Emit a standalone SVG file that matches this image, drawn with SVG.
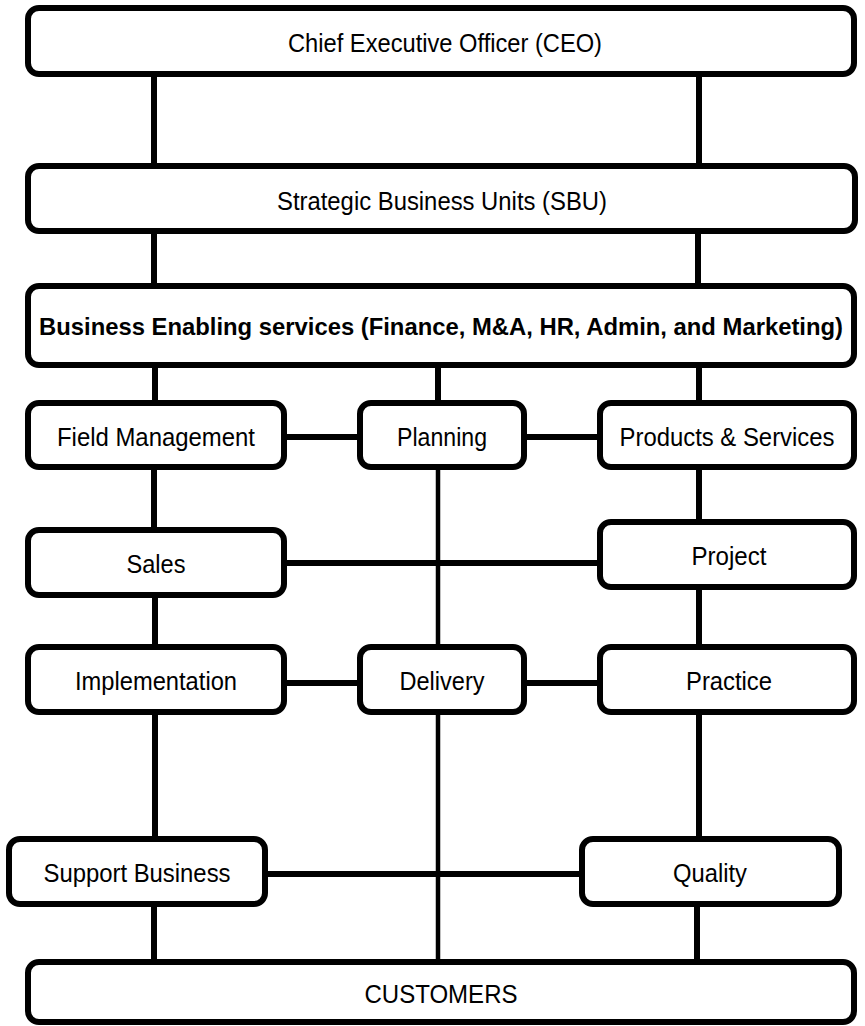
<svg xmlns="http://www.w3.org/2000/svg" width="865" height="1026" viewBox="0 0 865 1026">
  <style>
    .box { fill: #ffffff; stroke: #000000; stroke-width: 6; }
    .lbl { font-family: "Liberation Sans", Arial, sans-serif; font-size: 26px; fill: #000000; text-anchor: middle; }
    .bold { font-weight: bold; font-size: 24px; }
    .c { stroke: #000000; stroke-width: 6; fill: none; }
    .thin { stroke: #000000; stroke-width: 4.5; fill: none; }
  </style>
  <rect width="865" height="1026" fill="#ffffff"/>
  <g id="connectors">
    <line class="c" x1="154" y1="74" x2="154" y2="166"/>
    <line class="c" x1="699" y1="74" x2="699" y2="166"/>
    <line class="c" x1="154" y1="231" x2="154" y2="286"/>
    <line class="c" x1="698" y1="231" x2="698" y2="286"/>
    <line class="c" x1="155" y1="365" x2="155" y2="403"/>
    <line class="c" x1="438" y1="365" x2="438" y2="403"/>
    <line class="c" x1="699" y1="365" x2="699" y2="403"/>
    <line class="c" x1="284" y1="437" x2="360" y2="437"/>
    <line class="c" x1="524" y1="437" x2="600" y2="437"/>
    <line class="c" x1="154" y1="467" x2="154" y2="530"/>
    <line class="thin" x1="438" y1="467" x2="438" y2="647"/>
    <line class="c" x1="699" y1="467" x2="699" y2="522"/>
    <line class="c" x1="284" y1="563" x2="600" y2="563"/>
    <line class="c" x1="155" y1="595" x2="155" y2="647"/>
    <line class="c" x1="699" y1="587" x2="699" y2="647"/>
    <line class="c" x1="284" y1="683" x2="360" y2="683"/>
    <line class="c" x1="524" y1="683" x2="600" y2="683"/>
    <line class="c" x1="155" y1="712" x2="155" y2="839"/>
    <line class="c" x1="699" y1="712" x2="699" y2="839"/>
    <line class="thin" x1="438" y1="712" x2="438" y2="962"/>
    <line class="c" x1="265" y1="874" x2="582" y2="874"/>
    <line class="c" x1="154" y1="904" x2="154" y2="962"/>
    <line class="c" x1="697" y1="904" x2="697" y2="962"/>
  </g>
  <g id="ceo">
    <rect class="box" x="28" y="8" width="826" height="66" rx="11"/>
    <text class="lbl" x="445" y="52" textLength="314" lengthAdjust="spacingAndGlyphs">Chief Executive Officer (CEO)</text>
  </g>
  <g id="sbu">
    <rect class="box" x="28" y="166" width="827" height="65" rx="11"/>
    <text class="lbl" x="442" y="210" textLength="330" lengthAdjust="spacingAndGlyphs">Strategic Business Units (SBU)</text>
  </g>
  <g id="bes">
    <rect class="box" x="28" y="286" width="826" height="79" rx="11"/>
    <text class="lbl bold" x="441" y="335" textLength="804" lengthAdjust="spacingAndGlyphs">Business Enabling services (Finance, M&amp;A, HR, Admin, and Marketing)</text>
  </g>
  <g id="field-management">
    <rect class="box" x="28" y="403" width="256" height="64" rx="11"/>
    <text class="lbl" x="156" y="446" textLength="198" lengthAdjust="spacingAndGlyphs">Field Management</text>
  </g>
  <g id="planning">
    <rect class="box" x="360" y="403" width="164" height="64" rx="11"/>
    <text class="lbl" x="442" y="446" textLength="90" lengthAdjust="spacingAndGlyphs">Planning</text>
  </g>
  <g id="products-services">
    <rect class="box" x="600" y="403" width="254" height="64" rx="11"/>
    <text class="lbl" x="727" y="446" textLength="215" lengthAdjust="spacingAndGlyphs">Products &amp; Services</text>
  </g>
  <g id="sales">
    <rect class="box" x="28" y="530" width="256" height="65" rx="11"/>
    <text class="lbl" x="156" y="573" textLength="59" lengthAdjust="spacingAndGlyphs">Sales</text>
  </g>
  <g id="project">
    <rect class="box" x="600" y="522" width="254" height="65" rx="11"/>
    <text class="lbl" x="729" y="565" textLength="75" lengthAdjust="spacingAndGlyphs">Project</text>
  </g>
  <g id="implementation">
    <rect class="box" x="28" y="647" width="256" height="65" rx="11"/>
    <text class="lbl" x="156" y="690" textLength="162" lengthAdjust="spacingAndGlyphs">Implementation</text>
  </g>
  <g id="delivery">
    <rect class="box" x="360" y="647" width="164" height="65" rx="11"/>
    <text class="lbl" x="442" y="690" textLength="85" lengthAdjust="spacingAndGlyphs">Delivery</text>
  </g>
  <g id="practice">
    <rect class="box" x="600" y="647" width="254" height="65" rx="11"/>
    <text class="lbl" x="729" y="690" textLength="86" lengthAdjust="spacingAndGlyphs">Practice</text>
  </g>
  <g id="support-business">
    <rect class="box" x="9" y="839" width="256" height="65" rx="11"/>
    <text class="lbl" x="137" y="882" textLength="187" lengthAdjust="spacingAndGlyphs">Support Business</text>
  </g>
  <g id="quality">
    <rect class="box" x="582" y="839" width="257" height="65" rx="11"/>
    <text class="lbl" x="710" y="882" textLength="74" lengthAdjust="spacingAndGlyphs">Quality</text>
  </g>
  <g id="customers">
    <rect class="box" x="28" y="962" width="826" height="60" rx="11"/>
    <text class="lbl" x="441" y="1003" textLength="153" lengthAdjust="spacingAndGlyphs">CUSTOMERS</text>
  </g>
</svg>
